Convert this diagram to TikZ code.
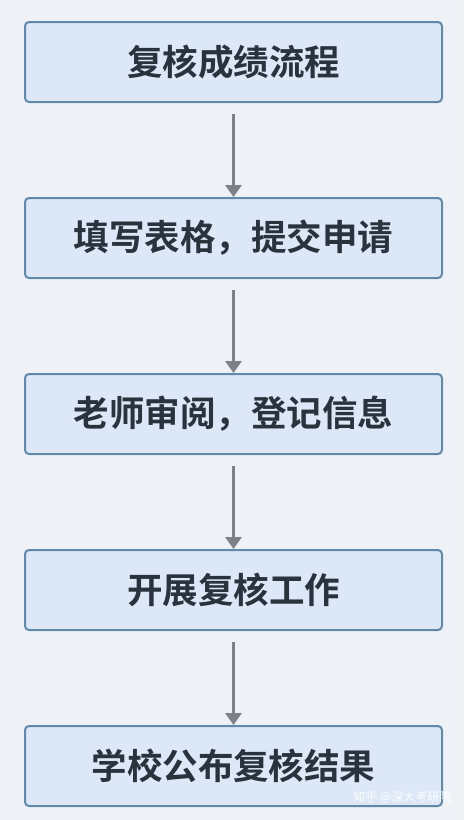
\documentclass[tikz,border=0pt]{standalone}
\usepackage{fontspec}
\usepackage{tikz}
\usepackage{xcolor}
\usetikzlibrary{positioning, arrows.meta}
\newfontfamily\cjk{Noto Sans CJK SC}[BoldFont={Noto Sans CJK SC Bold}]

\definecolor{bgcol}{HTML}{EEF2F7}
\definecolor{boxfill}{HTML}{DCE8F7}
\definecolor{boxline}{HTML}{6089AA}
\definecolor{txtcol}{HTML}{2A323D}
\definecolor{arrowcol}{HTML}{7B8089}

\tikzset{
  stepbox/.style={draw=boxline, line width=2pt, fill=boxfill, rounded corners=4pt,
    minimum width=417pt, minimum height=80pt, inner sep=0pt,
    font=\cjk\bfseries\fontsize{35.5}{40}\selectfont, text=txtcol},
  flowarrow/.style={draw=arrowcol, line width=3.5pt, shorten <=11pt,
    -{Triangle[width=16pt,length=12pt]}}
}

\begin{document}
\begin{tikzpicture}[node distance=94pt]
% Background and bounds
\fill[bgcol] (0,0) rectangle (464pt,-820pt);
\useasboundingbox (0,0) rectangle (464pt,-820pt);

% Steps
\node[stepbox] (s1) at (233.5pt,-62pt) {复核成绩流程};
\node[stepbox, below=of s1] (s2) {填写表格，提交申请};
\node[stepbox, below=of s2] (s3) {老师审阅，登记信息};
\node[stepbox, below=of s3] (s4) {开展复核工作};
\node[stepbox, below=of s4] (s5) {学校公布复核结果};

% Arrows
\foreach \a/\b in {s1/s2, s2/s3, s3/s4, s4/s5}
  \draw[flowarrow] (\a.south) -- (\b.north);

% Watermark
\node[font=\cjk\fontsize{12}{14}\selectfont, text=white, opacity=0.9, anchor=east] (wm) at (455pt,-797pt) {知乎 @深大考研院};
\end{tikzpicture}
\end{document}
